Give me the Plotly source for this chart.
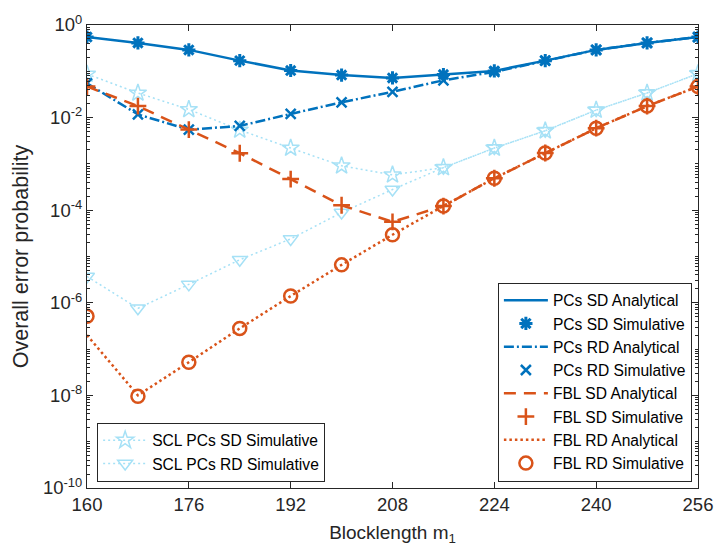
import plotly.graph_objects as go

m = [160, 168, 176, 184, 192, 200, 208, 216, 224, 232, 240, 248, 256]

pcs_sd_ana = [0.55, 0.41, 0.29, 0.17, 0.104, 0.083, 0.072, 0.085, 0.102, 0.17, 0.29, 0.41, 0.55]
pcs_sd_sim = [0.55, 0.41, 0.29, 0.17, 0.104, 0.083, 0.072, 0.085, 0.102, 0.17, 0.29, 0.41, 0.55]
pcs_rd_ana = [0.055, 0.0117, 0.0055, 0.0066, 0.012, 0.0214, 0.036, 0.064, 0.097, 0.17, 0.29, 0.41, 0.55]
pcs_rd_sim = [0.055, 0.0117, 0.0055, 0.0066, 0.012, 0.0214, 0.036, 0.064, 0.097, 0.17, 0.29, 0.41, 0.55]
fbl_sd_ana = [0.047, 0.0177, 0.0055, 0.0017, 4.7e-4, 1.28e-4, 5.6e-5, 1.23e-4, 4.9e-4, 1.72e-3, 5.9e-3, 0.0177, 0.047]
fbl_sd_sim = [0.047, 0.0177, 0.0055, 0.0017, 4.7e-4, 1.28e-4, 5.6e-5, 1.23e-4, 4.9e-4, 1.72e-3, 5.9e-3, 0.0177, 0.047]
fbl_rd_ana = [2.0e-7, 1.0e-8, 5.2e-8, 2.8e-7, 1.4e-6, 6.6e-6, 2.95e-5, 1.23e-4, 4.9e-4, 1.72e-3, 5.9e-3, 0.0177, 0.047]
fbl_rd_sim = [5.1e-7, 9.6e-9, 5.2e-8, 2.8e-7, 1.4e-6, 6.6e-6, 2.95e-5, 1.23e-4, 4.9e-4, 1.72e-3, 5.9e-3, 0.0177, 0.047]
scl_sd_sim = [0.087, 0.034, 0.015, 0.0054, 0.0022, 9.1e-4, 5.8e-4, 8.3e-4, 0.0022, 0.0052, 0.0145, 0.034, 0.089]
scl_rd_sim = [3.7e-6, 7.6e-7, 2.5e-6, 8.5e-6, 2.4e-5, 8.9e-5, 2.8e-4, 8.3e-4, 0.0022, 0.0052, 0.0145, 0.034, 0.089]

x_ticks = [160, 176, 192, 208, 224, 240, 256]
y_exps = [0, -2, -4, -6, -8, -10]

BLUE = "#0072BD"
ORANGE = "#D95319"
LIGHT = "#A6E1F6"
FONT = "Liberation Sans"
TXT = "#262626"

fig = go.Figure()

# SCL traces (second legend)
fig.add_trace(go.Scatter(x=m, y=scl_sd_sim, name="SCL PCs SD Simulative", mode="lines+markers",
                         line=dict(color=LIGHT, width=1.5, dash="2px,3px"),
                         marker=dict(symbol="star-open", size=13, color=LIGHT, line=dict(width=1.5, color=LIGHT)),
                         legend="legend2"))
fig.add_trace(go.Scatter(x=m, y=scl_rd_sim, name="SCL PCs RD Simulative", mode="lines+markers",
                         line=dict(color=LIGHT, width=1.5, dash="2px,3px"),
                         marker=dict(symbol="triangle-down-open", size=13, color=LIGHT, line=dict(width=1.5, color=LIGHT)),
                         legend="legend2"))

# Main traces
fig.add_trace(go.Scatter(x=m, y=pcs_sd_ana, name="PCs SD Analytical", mode="lines",
                         line=dict(color=BLUE, width=2.5)))
fig.add_trace(go.Scatter(x=m, y=pcs_sd_sim, name="PCs SD Simulative", mode="markers",
                         marker=dict(symbol="asterisk-open", size=11, color=BLUE, line=dict(width=3, color=BLUE))))
fig.add_trace(go.Scatter(x=m, y=pcs_rd_ana, name="PCs RD Analytical", mode="lines",
                         line=dict(color=BLUE, width=2.5, dash="10px,3px,2px,3px")))
fig.add_trace(go.Scatter(x=m, y=pcs_rd_sim, name="PCs RD Simulative", mode="markers",
                         marker=dict(symbol="x-thin-open", size=10, color=BLUE, line=dict(width=2.5, color=BLUE))))
fig.add_trace(go.Scatter(x=m, y=fbl_sd_ana, name="FBL SD Analytical", mode="lines",
                         line=dict(color=ORANGE, width=2.5, dash="12px,8px")))
fig.add_trace(go.Scatter(x=m, y=fbl_sd_sim, name="FBL SD Simulative", mode="markers",
                         marker=dict(symbol="cross-thin-open", size=12, color=ORANGE, line=dict(width=2.5, color=ORANGE))))
fig.add_trace(go.Scatter(x=m, y=fbl_rd_ana, name="FBL RD Analytical", mode="lines",
                         line=dict(color=ORANGE, width=2.5, dash="2.5px,3px")))
fig.add_trace(go.Scatter(x=m, y=fbl_rd_sim, name="FBL RD Simulative", mode="markers",
                         marker=dict(symbol="circle-open", size=13, color=ORANGE, line=dict(width=2.5, color=ORANGE))))

minor_vals = []
for e in range(-10, 0):
    for k in range(1, 10):
        minor_vals.append(k * 10 ** e)
minor_vals.append(1.0)

fig.update_layout(
    width=725, height=555,
    margin=dict(l=87, r=16, t=15.5, b=67.3),
    paper_bgcolor="white", plot_bgcolor="white",
    font=dict(family=FONT, size=17, color=TXT),
    xaxis=dict(
        range=[160, 256], tickmode="array", tickvals=x_ticks, ticktext=[str(v) for v in x_ticks],
        ticks="inside", ticklen=6, tickcolor=TXT, showline=True, linecolor=TXT, linewidth=1.2,
        mirror="ticks", showgrid=False, zeroline=False, ticklabeloverflow="allow",
        title=dict(text="Blocklength m<sub>1</sub>", font=dict(size=19, family=FONT, color=TXT), standoff=11),
        tickfont=dict(size=18.5, family=FONT, color=TXT),
    ),
    yaxis=dict(
        type="log", range=[-10, 0], tickmode="array",
        tickvals=[10.0 ** e for e in y_exps],
        ticktext=["10<sup>%d</sup>" % e for e in y_exps],
        ticks="inside", ticklen=6, tickcolor=TXT, showline=True, linecolor=TXT, linewidth=1.2,
        mirror="ticks", showgrid=False, zeroline=False, ticklabeloverflow="allow",
        minor=dict(tickmode="array", tickvals=minor_vals, ticks="inside", ticklen=3, tickcolor=TXT, showgrid=False),
        title=dict(text="Overall error probability", font=dict(size=21.5, family=FONT, color=TXT), standoff=8),
        tickfont=dict(size=18.5, family=FONT, color=TXT),
    ),
    legend=dict(
        x=0.99, y=0.014, xanchor="right", yanchor="bottom",
        bgcolor="white", bordercolor=TXT, borderwidth=1,
        font=dict(size=15.6, family=FONT, color="black"),
        itemwidth=44, tracegroupgap=0, traceorder="normal",
    ),
    legend2=dict(
        x=0.0166, y=0.014, xanchor="left", yanchor="bottom",
        bgcolor="white", bordercolor=TXT, borderwidth=1,
        font=dict(size=15.6, family=FONT, color="black"),
        itemwidth=44, tracegroupgap=0,
    ),
    showlegend=True,
)

fig.write_html("out.html")
